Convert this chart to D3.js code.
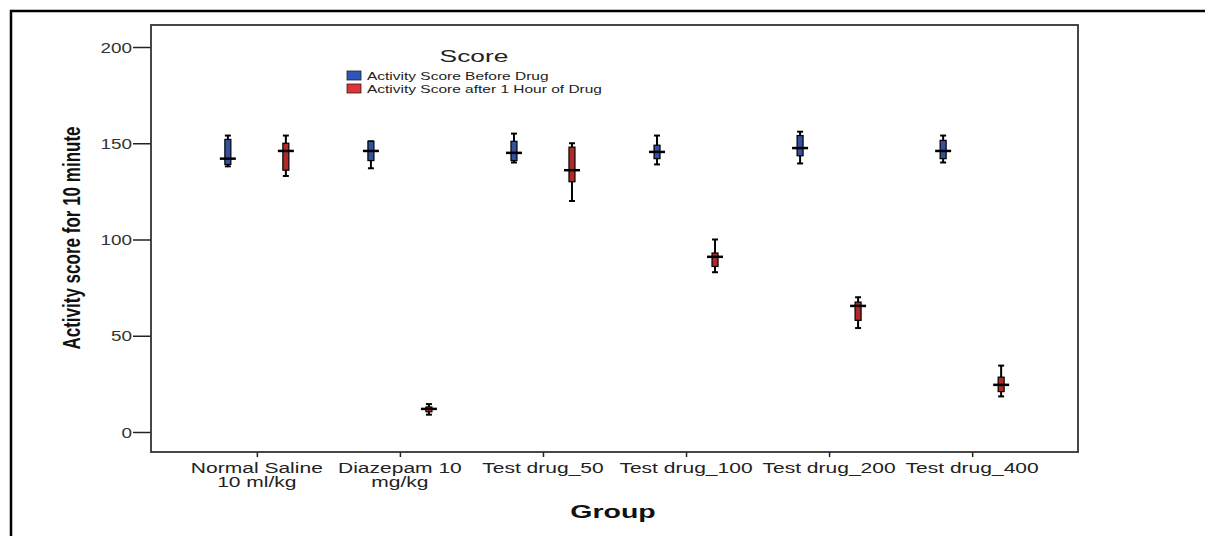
<!DOCTYPE html>
<html>
<head>
<meta charset="utf-8">
<script src="https://cdn.jsdelivr.net/npm/d3@7"></script>
<style>
  body { margin: 0; background: #fff; }
  text { font-family: "Liberation Sans", Arial, sans-serif; }
</style>
</head>
<body>
<svg id="chart" width="1205" height="536"></svg>
<script>
// groups on the x axis (label lines)
const groups = [
  ["Normal Saline", "10 ml/kg"],
  ["Diazepam 10", "mg/kg"],
  ["Test drug_50"],
  ["Test drug_100"],
  ["Test drug_200"],
  ["Test drug_400"]
];
const series = ["Activity Score Before Drug", "Activity Score after 1 Hour of Drug"];
const yTicks = [0, 50, 100, 150, 200];

// box stats per group: [min, q1, median, q3, max]
const beforeStats = [
  [138, 139, 142, 152, 154],
  [137, 141, 146, 151, 151],
  [140, 141, 145, 151, 155],
  [139, 142, 145.5, 149, 154],
  [139.5, 143.5, 147.5, 154, 156],
  [140, 142, 146, 151.5, 154]
];
const afterStats = [
  [133, 136, 146, 150, 154],
  [9, 10.5, 12, 13, 14.5],
  [120, 130, 136, 148, 150],
  [83, 86, 91, 93, 100],
  [54, 58, 65.5, 67.5, 70],
  [18.5, 21, 24.5, 28.5, 34.5]
];

const boxColors = ["#34509e", "#b02a2a"];
const legendColors = ["#2f55b8", "#e03535"];

class BoxChart {
  constructor(_config) {
    this.config = {
      parentElement: _config.parentElement,
      left: 151, right: 1078, top: 25, bottom: 452
    };
    this.initVis();
  }

  initVis() {
    let vis = this;
    let c = vis.config;
    vis.svg = d3.select(c.parentElement);

    // outer border (only top/left visible)
    vis.svg.append("rect")
        .attr("x", 11).attr("y", 11)
        .attr("width", 1300).attr("height", 700)
        .attr("fill", "none").attr("stroke", "#000").attr("stroke-width", 2.5);

    vis.x = d3.scalePoint()
        .domain(d3.range(groups.length))
        .range([c.left, c.right])
        .padding(0.74);
    vis.xOff = d3.scalePoint().domain(series).range([-29, 29]);
    vis.y = d3.scaleLinear().domain([0, 200]).range([432, 47]);

    vis.data = [];
    groups.forEach((g, i) => {
      vis.data.push({ g: i, s: series[0], v: beforeStats[i], k: 0 });
      vis.data.push({ g: i, s: series[1], v: afterStats[i], k: 1 });
    });
    vis.render();
  }

  stretchText(sel, sx) {
    sel.each(function () {
      let t = d3.select(this);
      let x = +t.attr("x") || 0, y = +t.attr("y") || 0;
      t.attr("transform", `translate(${x},${y}) scale(${sx},1) translate(${-x},${-y})`);
    });
  }

  render() {
    let vis = this;
    let c = vis.config;

    // y axis
    let yAxis = vis.svg.append("g")
        .attr("transform", `translate(${c.left},0)`)
        .call(d3.axisLeft(vis.y).tickValues(yTicks).tickSize(18).tickPadding(2));
    yAxis.select(".domain").remove();
    yAxis.selectAll(".tick line").attr("stroke", "#222").attr("stroke-width", 1.5);
    yAxis.selectAll(".tick text")
        .attr("font-size", 14).attr("fill", "#333")
        .attr("font-family", "Liberation Sans, Arial, sans-serif")
        .attr("dy", "0.36em")
        .each(function () {
          let t = d3.select(this);
          let x = -19;
          t.attr("x", x).attr("transform", `translate(${x},0) scale(1.35,1) translate(${-x},0)`);
        });

    // x axis
    let xAxis = vis.svg.append("g")
        .attr("transform", `translate(0,${c.bottom})`)
        .call(d3.axisBottom(vis.x).tickSize(5).tickFormat(""));
    xAxis.select(".domain").remove();
    xAxis.selectAll(".tick line").attr("stroke", "#222").attr("stroke-width", 1.5);

    let xLabels = vis.svg.append("g").selectAll("text")
        .data(groups)
        .join("text")
        .attr("x", (d, i) => vis.x(i))
        .attr("y", 473)
        .attr("text-anchor", "middle")
        .attr("font-size", 14.5)
        .attr("fill", "#222");
    xLabels.selectAll("tspan")
        .data(d => d)
        .join("tspan")
        .attr("x", function () { return d3.select(this.parentNode).attr("x"); })
        .attr("dy", (d, i) => i === 0 ? 0 : 14.5)
        .text(d => d);
    vis.stretchText(xLabels, 1.45);

    // plot frame
    vis.svg.append("rect")
        .attr("x", c.left).attr("y", c.top)
        .attr("width", c.right - c.left).attr("height", c.bottom - c.top)
        .attr("fill", "none").attr("stroke", "#333").attr("stroke-width", 1.8);

    // axis titles
    let gt = vis.svg.append("text")
        .attr("x", 613).attr("y", 518)
        .attr("text-anchor", "middle")
        .attr("font-size", 19).attr("font-weight", "bold")
        .attr("fill", "#111")
        .text("Group");
    vis.stretchText(gt, 1.5);

    vis.svg.append("text")
        .attr("transform", "translate(80,238) rotate(-90) scale(0.74,1)")
        .attr("text-anchor", "middle")
        .attr("font-size", 23).attr("font-weight", "bold")
        .attr("fill", "#111")
        .text("Activity score for 10 minute");

    // boxes
    let boxes = vis.svg.append("g").selectAll("g.box")
        .data(vis.data)
        .join("g")
        .attr("class", "box")
        .attr("transform", d => `translate(${vis.x(d.g) + vis.xOff(d.s)},0)`);

    boxes.append("line")
        .attr("y1", d => vis.y(d.v[0])).attr("y2", d => vis.y(d.v[4]))
        .attr("stroke", "#000").attr("stroke-width", 2);
    boxes.append("line")
        .attr("x1", -3).attr("x2", 3)
        .attr("y1", d => vis.y(d.v[4])).attr("y2", d => vis.y(d.v[4]))
        .attr("stroke", "#000").attr("stroke-width", 2);
    boxes.append("line")
        .attr("x1", -3).attr("x2", 3)
        .attr("y1", d => vis.y(d.v[0])).attr("y2", d => vis.y(d.v[0]))
        .attr("stroke", "#000").attr("stroke-width", 2);
    boxes.append("rect")
        .attr("x", -3).attr("width", 6)
        .attr("y", d => vis.y(d.v[3]))
        .attr("height", d => vis.y(d.v[1]) - vis.y(d.v[3]))
        .attr("fill", d => boxColors[d.k])
        .attr("stroke", "#000").attr("stroke-width", 1.2);
    boxes.append("line")
        .attr("x1", -8).attr("x2", 8)
        .attr("y1", d => vis.y(d.v[2])).attr("y2", d => vis.y(d.v[2]))
        .attr("stroke", "#000").attr("stroke-width", 2.5);

    // legend
    let lt = vis.svg.append("text")
        .attr("x", 474).attr("y", 62)
        .attr("text-anchor", "middle")
        .attr("font-size", 17).attr("fill", "#222")
        .text("Score");
    vis.stretchText(lt, 1.55);

    let leg = vis.svg.append("g").selectAll("g")
        .data(series)
        .join("g")
        .attr("transform", (d, i) => `translate(347,${71 + i * 13})`);
    leg.append("rect")
        .attr("width", 14).attr("height", 9)
        .attr("fill", (d, i) => legendColors[i])
        .attr("stroke", "#222").attr("stroke-width", 0.8);
    let li = leg.append("text")
        .attr("x", 20).attr("y", 8.5)
        .attr("font-size", 10).attr("fill", "#222")
        .text(d => d);
    vis.stretchText(li, 1.55);
  }
}

new BoxChart({ parentElement: "#chart" });
</script>
</body>
</html>
